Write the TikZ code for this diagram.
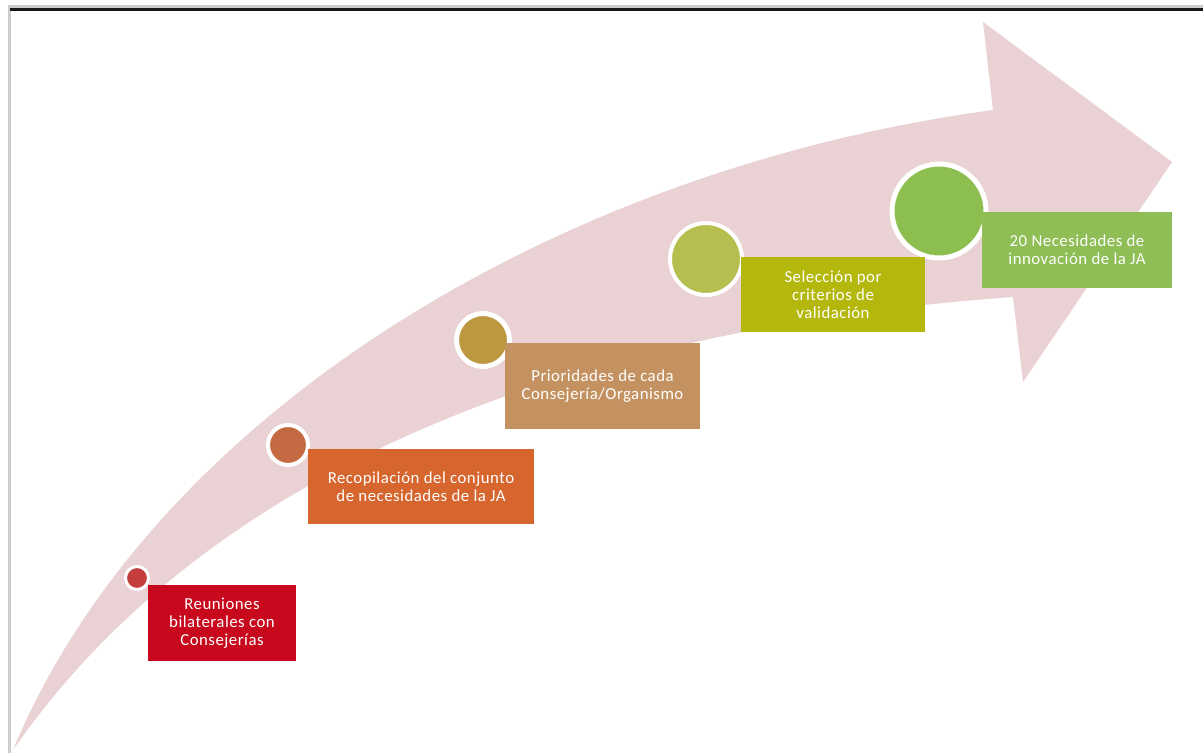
\documentclass[tikz,border=0pt]{standalone}
\usepackage{fontspec}
\setmainfont{Carlito}
\newfontfamily\boxfont[LetterSpace=3]{Carlito}
\definecolor{arrowpink}{RGB}{233,209,212}
\definecolor{boxA}{RGB}{200,8,28}
\definecolor{boxB}{RGB}{214,101,46}
\definecolor{boxC}{RGB}{196,146,96}
\definecolor{boxD}{RGB}{180,184,12}
\definecolor{boxE}{RGB}{142,190,85}
\definecolor{dotA}{RGB}{196,62,62}
\definecolor{dotB}{RGB}{196,105,65}
\definecolor{dotC}{RGB}{190,152,62}
\definecolor{dotD}{RGB}{182,190,80}
\definecolor{dotE}{RGB}{141,190,80}
\definecolor{framegray}{RGB}{205,205,205}
\newcommand\px{0.75pt}
\tikzset{
  stepbox/.style={rectangle, inner sep=2pt, align=center, text=white,
    font=\boxfont\fontsize{12.6}{13.7}\selectfont},
  dot/.style={circle, draw=white, inner sep=0pt}
}
\begin{document}
\begin{tikzpicture}[x=0.75pt,y=-0.75pt]
\useasboundingbox (0,0) rectangle (1203,753);
\fill[white] (0,0) rectangle (1203,753);
% frame
\fill[framegray] (8,5) rectangle (1203,8);
\fill[framegray] (8,5) rectangle (11,753);
\fill[black!90] (10,8) rectangle (1203,10.5);
% curved arrow
\fill[arrowpink] (13,750) .. controls (150,420) and (550,170) .. (993,110)
  -- (983,22) -- (1172,162) -- (1023,382) -- (1013,297)
  .. controls (550,330) and (200,480) .. (13,750) -- cycle;
% circles
\node[dot, fill=dotA, line width=3*\px, minimum size=23*\px] (c1) at (137,578) {};
\node[dot, fill=dotB, line width=4*\px, minimum size=40*\px] (c2) at (288,445) {};
\node[dot, fill=dotC, line width=5*\px, minimum size=53*\px] (c3) at (483,340) {};
\node[dot, fill=dotD, line width=4*\px, minimum size=72*\px] (c4) at (706,259) {};
\node[dot, fill=dotE, line width=5*\px, minimum size=94*\px] (c5) at (939,211) {};
% boxes
\node[stepbox, fill=boxA, minimum width=148*\px, minimum height=76*\px] (b1) at (222,623)
  {Reuniones\\bilaterales con\\Consejerías};
\node[stepbox, fill=boxB, minimum width=226*\px, minimum height=75*\px] (b2) at (421,486.5)
  {Recopilación del conjunto\\de necesidades de la JA};
\node[stepbox, fill=boxC, minimum width=195*\px, minimum height=86*\px] (b3) at (602.5,386)
  {Prioridades de cada\\Consejería/Organismo};
\node[stepbox, fill=boxD, minimum width=184*\px, minimum height=75*\px] (b4) at (833,294.5)
  {Selección por\\criterios de\\validación};
\node[stepbox, fill=boxE, minimum width=190*\px, minimum height=76*\px] (b5) at (1077,250)
  {20 Necesidades de\\innovación de la JA};
\end{tikzpicture}
\end{document}
